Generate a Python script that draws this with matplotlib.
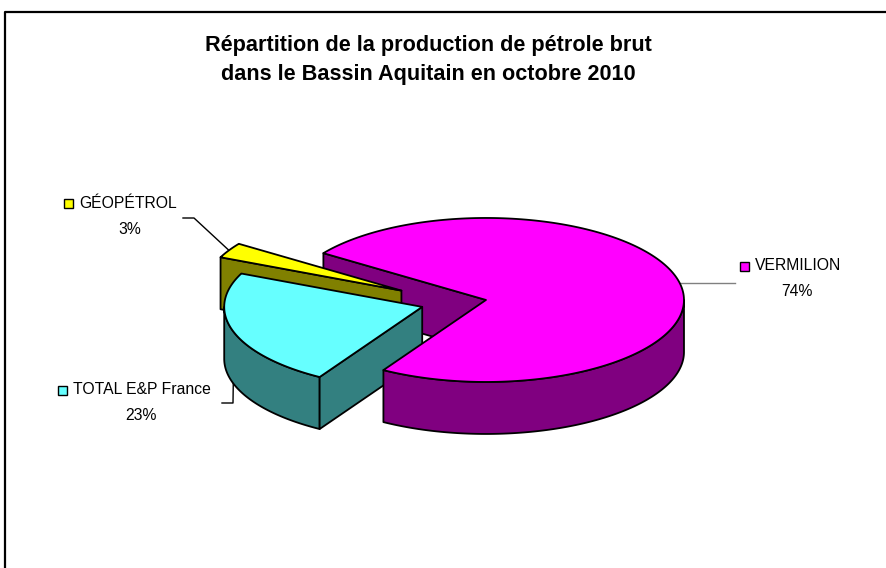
import numpy as np
import matplotlib
matplotlib.use('Agg')
import matplotlib.pyplot as plt
from matplotlib.patches import Polygon, Rectangle

# data
labels = ['VERMILION', 'TOTAL E&P France', 'GÉOPÉTROL']
shares = [74, 23, 3]
top_colors = ['#FF00FF', '#66FFFF', '#FFFF00']
side_colors = ['#800080', '#338080', '#808000']
title = 'Répartition de la production de pétrole brut\ndans le Bassin Aquitain en octobre 2010'

# layout (pixel units, the axes spans the whole figure)
cx, cy = 453.7, 302.8       # pie centre
rx, ry, depth = 198, 82, 52  # ellipse radii and thickness
start = 145.2                # first slice starts here, slices go clockwise
explode = [33, 33, 60]
name_xy = [(798, 266), (142, 390), (128, 203)]
pct_xy = [(797, 291), (141, 416), (130, 229)]
leader_end = [(735, None), (222, 403), (183, 218)]
leader_knee = [None, (233, 403), (194, 218)]
leader_at_bottom = [False, True, False]
leader_color = ['#808080', 'black', 'black']
title_baselines = [51.5, 80]

plt.rcParams['font.family'] = ['Liberation Sans', 'DejaVu Sans']

fig = plt.figure(figsize=(8.86, 5.68), dpi=100)
ax = fig.add_axes([0, 0, 1, 1])
ax.set_xlim(0, 886)
ax.set_ylim(568, 0)
ax.axis('off')


def rim(ox, oy, ang, dz=0.0):
    t = np.radians(ang)
    return ox + rx * np.cos(t), oy - ry * np.sin(t) + dz


def arc(ox, oy, a0, a1, dz=0.0, n=200):
    t = np.linspace(a0, a1, n)
    x, y = rim(ox, oy, t, dz)
    return np.column_stack([x, y])


def back_dist(ang):
    # angular distance from the back of the pie (90 deg)
    d = (ang - 90) % 360
    return min(d, 360 - d)


total = float(sum(shares))
sides = []
tops = []
anchors = []
hi = start
for i, s in enumerate(shares):
    lo = hi - 360 * s / total
    mid = (lo + hi) / 2
    ox = cx + explode[i] * np.cos(np.radians(mid))
    oy = cy - explode[i] * (ry / rx) * np.sin(np.radians(mid))

    # top face
    pts = np.vstack([[ox, oy], arc(ox, oy, lo, hi)])
    tops.append(Polygon(pts, closed=True, fc=top_colors[i], ec='black', lw=1.3,
                        joinstyle='round'))

    # outer wall, only the front half (sin < 0) is visible
    for k in range(-2, 3):
        a0 = max(lo, -180 + 360 * k)
        a1 = min(hi, 360 * k)
        if a1 > a0:
            up = arc(ox, oy, a0, a1)
            down = arc(ox, oy, a1, a0, dz=depth)
            poly = Polygon(np.vstack([up, down]), closed=True, fc=side_colors[i],
                           ec='black', lw=1.3, joinstyle='round')
            sides.append((back_dist((a0 + a1) / 2), poly))

    # radial cut faces facing the viewer
    for edge, visible in ((hi, np.cos(np.radians(hi)) < 0), (lo, np.cos(np.radians(lo)) > 0)):
        if visible:
            rx0, ry0 = rim(ox, oy, edge)
            pts = [(ox, oy), (rx0, ry0), (rx0, ry0 + depth), (ox, oy + depth)]
            poly = Polygon(pts, closed=True, fc=side_colors[i], ec='black', lw=1.3,
                           joinstyle='round')
            sides.append((back_dist(edge), poly))

    anchors.append(rim(ox, oy, mid, depth if leader_at_bottom[i] else 0.0))
    hi = lo

for _, p in sorted(sides, key=lambda x: x[0]):
    ax.add_patch(p)
for p in tops:
    ax.add_patch(p)

# labels with legend keys and leader lines
fig.canvas.draw()
renderer = fig.canvas.get_renderer()
inv = ax.transData.inverted()
for i, lab in enumerate(labels):
    t = ax.text(*name_xy[i], lab, ha='center', va='center', fontsize=11.3, color='black')
    ax.text(*pct_xy[i], '%d%%' % shares[i], ha='center', va='center', fontsize=11.3,
            color='black')
    bb = t.get_window_extent(renderer)
    x0 = inv.transform((bb.x0, bb.y0))[0]
    ax.add_patch(Rectangle((x0 - 15, name_xy[i][1] - 4), 9, 9, fc=top_colors[i],
                           ec='black', lw=1.0))
    ax_, ay_ = anchors[i]
    ex, ey = leader_end[i]
    if ey is None:
        ey = ay_
    path = [(ex, ey)]
    if leader_knee[i] is not None:
        path.append(leader_knee[i])
    path.append((ax_, ay_))
    path = np.array(path)
    ax.plot(path[:, 0], path[:, 1], color=leader_color[i], lw=1.0, zorder=0.5)

for line, yb in zip(title.split('\n'), title_baselines):
    ax.text(428, yb, line, ha='center', va='baseline', fontsize=15.6, fontweight='bold')

# chart frame (clipped at right and bottom in the reference)
ax.plot([5, 5, 886], [568, 12, 12], color='black', lw=1.6, clip_on=False)

fig.savefig('out.png', dpi=100)
